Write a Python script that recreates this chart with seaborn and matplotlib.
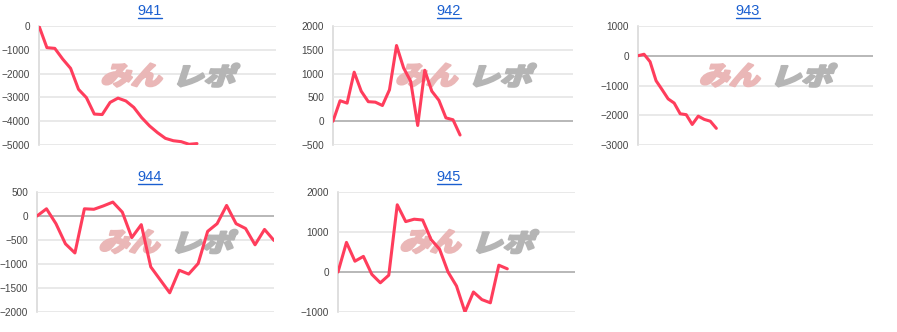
import numpy as np
import pandas as pd
import seaborn as sns
import matplotlib
matplotlib.use("Agg")
import matplotlib.pyplot as plt
from matplotlib.textpath import TextPath
from matplotlib.font_manager import FontProperties
from matplotlib.patches import PathPatch
from matplotlib.path import Path
from matplotlib.transforms import IdentityTransform
from matplotlib.lines import Line2D

# ---- data ----
titles = ["941", "942", "943", "944", "945"]
slots = [31, 35, 40, 26, 29]  # number of x positions on each chart
s941 = [0, -910, -940, -1390, -1780, -2660, -3010, -3700, -3720, -3210, -3030,
        -3150, -3420, -3850, -4200, -4480, -4720, -4820, -4860, -4970, -4940]
s942 = [0, 430, 380, 1030, 630, 410, 400, 330, 660, 1590, 1120, 840, -90,
        1070, 630, 440, 70, 30, -290]
s943 = [0, 50, -200, -840, -1140, -1450, -1590, -1950, -1980, -2310, -2030,
        -2140, -2200, -2440]
s944 = [0, 150, -160, -580, -770, 150, 140, 210, 290, 80, -450, -180, -1060,
        -1330, -1600, -1130, -1210, -990, -320, -160, 220, -160, -260, -600,
        -280, -510]
s945 = [0, 740, 270, 390, -60, -270, -80, 1680, 1260, 1320, 1300, 810, 570,
        0, -350, -1000, -500, -690, -770, 170, 80]
series = [s941, s942, s943, s944, s945]
y_ranges = [(-5000, 0), (-500, 2000), (-3000, 1000), (-2000, 500), (-1000, 2000)]
y_steps = [1000, 500, 1000, 500, 1000]

sns.set_theme(style="white")
plt.rcParams["font.family"] = ["Liberation Sans", "DejaVu Sans"]

W, H = 897, 332
fig = plt.figure(figsize=(W / 100, H / 100), dpi=100)

# axes boxes in pixels: left, top, width, height
boxes = [(39, 26, 237, 119), (333, 26, 240, 119), (638, 26, 235, 119),
         (37, 192, 237, 120), (338, 192, 237, 120)]
title_pos = [(150, 11), (449, 11), (748, 11), (150, 177), (449, 177)]

line_color = "#ff3d5c"
jp = FontProperties(family="Noto Sans CJK JP", weight="heavy")


def add_logo(ax):
    fig.canvas.draw()
    (x0, y0), (x1, y1) = ax.transAxes.transform([(0.255, 0.49), (0.85, 0.685)])
    parts = [("みん", "#eab7b7", x0, x0 + (x1 - x0) * 0.48),
             ("レポ", "#b5b5b5", x0 + (x1 - x0) * 0.51, x1)]
    slant = np.tan(np.radians(18))
    for txt, col, a, b in parts:
        tp = TextPath((0, 0), txt, size=100, prop=jp)
        v = tp.vertices.copy()
        vx0, vy0 = v.min(axis=0)
        vx1, vy1 = v.max(axis=0)
        h = (y1 - y0)
        wid = (b - a) - slant * h
        nx = (v[:, 0] - vx0) / (vx1 - vx0)
        ny = (v[:, 1] - vy0) / (vy1 - vy0)
        X = a + nx * wid + slant * ny * h
        Y = y0 + ny * h
        p = Path(np.column_stack([X, Y]), tp.codes)
        patch = PathPatch(p, facecolor=col, edgecolor=col, lw=1.6,
                          joinstyle="round",
                          transform=IdentityTransform(), zorder=1.5,
                          clip_on=False)
        ax.add_artist(patch)


axes = []
for i, vals in enumerate(series):
    l, t, w, h = boxes[i]
    ax = fig.add_axes([l / W, (H - t - h) / H, w / W, h / H])
    df = pd.DataFrame({"x": np.arange(len(vals)), "y": vals})
    sns.lineplot(data=df, x="x", y="y", ax=ax, color=line_color, lw=2.2,
                 zorder=3)
    ymin, ymax = y_ranges[i]
    ax.set_xlim(0, slots[i] - 1)
    ax.set_ylim(ymin, ymax)
    ax.set_yticks(np.arange(ymin, ymax + 1, y_steps[i]))
    ax.set_xticks([])
    ax.set_xlabel("")
    ax.set_ylabel("")
    ax.grid(axis="y", color="#e3e3e3", lw=1.1, zorder=0)
    if ymin < 0 < ymax:
        ax.axhline(0, color="#ababab", lw=1.1, zorder=1)
    for s in ["top", "right", "bottom"]:
        ax.spines[s].set_visible(False)
    ax.spines["left"].set_color("#d6d6d6")
    ax.spines["left"].set_linewidth(1.1)
    ax.spines["left"].set_zorder(0.5)
    ax.tick_params(axis="y", length=0, pad=6.3, labelsize=7.2, labelcolor="#444444")
    ax.patch.set_alpha(0)
    axes.append(ax)

for ax in axes:
    add_logo(ax)

title_texts = []
for i, name in enumerate(titles):
    x, y = title_pos[i]
    tt = fig.text(x / W, (H - y) / H, name, ha="center", va="center",
                  fontsize=10.5, color="#1a5fd0")
    title_texts.append(tt)

fig.canvas.draw()
r = fig.canvas.get_renderer()
for tt in title_texts:
    bb = tt.get_window_extent(renderer=r)
    yl = bb.y0 + 0.5
    fig.add_artist(Line2D([bb.x0, bb.x1], [yl, yl], color="#1a5fd0", lw=1.0,
                          transform=IdentityTransform()))

fig.savefig("out.png", dpi=100, facecolor="white")
